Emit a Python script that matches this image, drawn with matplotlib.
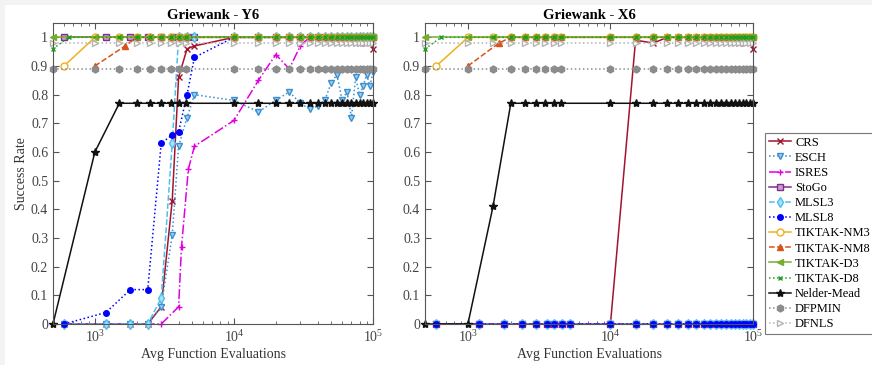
import matplotlib
matplotlib.use('Agg')
import matplotlib.pyplot as plt
from matplotlib.patches import Rectangle

plt.rcParams['font.family'] = ['Liberation Serif', 'DejaVu Serif']
plt.rcParams['mathtext.fontset'] = 'stix'

# evaluation budgets (two grids used by the solvers)
grid_a = [500, 1000, 1500, 2000, 2500, 3000, 3500, 4000, 4500,
          10000, 15000, 20000, 25000, 30000, 35000, 40000, 45000, 50000, 55000,
          60000, 65000, 70000, 75000, 80000, 85000, 90000, 95000, 100000]
grid_b = [600, 1200, 1800, 2400, 3000, 3600, 4000, 4600, 5200,
          10000, 15000, 20000, 25000, 30000, 35000, 40000, 45000, 50000, 55000,
          60000, 65000, 70000, 75000, 80000, 85000, 90000, 95000, 100000]
isres_x = [600, 1200, 1800, 2400, 3000, 4000, 4200, 4700, 5200,
           10000, 15000, 20000, 25000, 30000, 35000, 40000, 45000, 50000, 55000,
           60000, 65000, 70000, 75000, 80000, 85000, 90000, 95000, 100000]
nm3_x = [600] + grid_a[1:]
nm8_x = [1000, 1650] + grid_a[3:]
d8_x = [500, 650] + grid_a[2:]

# success rates, Griewank - Y6
crs_y6 = [0, 0, 0, 0, 0.06, 0.43, 0.86, 0.96, 0.97] + [1.0] * 14 + [0.98, 1.0, 1.0, 1.0, 0.96]
esch_y6 = [0, 0, 0, 0, 0.06, 0.31, 0.62, 0.72, 0.80,
           0.78, 0.74, 0.78, 0.81, 0.77, 0.75, 0.76, 0.78, 0.84, 0.87,
           0.78, 0.81, 0.72, 0.86, 0.80, 0.83, 0.87, 0.83, 0.88]
isres_y6 = [0, 0, 0, 0, 0, 0.06, 0.27, 0.54, 0.62, 0.71, 0.85, 0.94, 0.89, 0.97] + [1.0] * 14
stogo_y6 = [1.0] * 28
mlsl3_y6 = [0, 0, 0, 0, 0.09, 0.63] + [1.0] * 22
mlsl8_y6 = [0, 0.04, 0.12, 0.12, 0.63, 0.66, 0.67, 0.80, 0.93] + [1.0] * 19
nm3_y6 = [0.9] + [1.0] * 27
nm8_y6 = [0.9, 0.97] + [1.0] * 25
d3_y6 = [1.0] * 28
d8_y6 = [0.96] + [1.0] * 27
nmead_y6 = [0, 0.6] + [0.77] * 26
dfpmin_y6 = [0.89] * 28
dfnls_y6 = [0.98] * 28

# success rates, Griewank - X6
crs_x6 = [0] * 9 + [0, 0.99, 0.98] + [1.0] * 11 + [0.98, 1.0, 1.0, 1.0, 0.96]
esch_x6 = [0.0] * 28
isres_x6 = [0.0] * 28
stogo_x6 = [0.0] * 28
mlsl3_x6 = [0.0] * 28
mlsl8_x6 = [0.0] * 28
nm3_x6 = [0.9] + [1.0] * 27
nm8_x6 = [0.9, 0.98] + [1.0] * 25
d3_x6 = [1.0] * 28
d8_x6 = [0.96] + [1.0] * 27
nmead_x6 = [0, 0, 0.41] + [0.77] * 25
dfpmin_x6 = [0.89] * 28
dfnls_x6 = [0.98] * 28

names = ['CRS', 'ESCH', 'ISRES', 'StoGo', 'MLSL3', 'MLSL8', 'TIKTAK-NM3',
         'TIKTAK-NM8', 'TIKTAK-D3', 'TIKTAK-D8', 'Nelder-Mead', 'DFPMIN', 'DFNLS']
xs = [grid_b, grid_b, isres_x, grid_b, grid_b, grid_b, nm3_x,
      nm8_x, grid_a, d8_x, grid_a, grid_a, grid_a]
styles = [('#A2142F', '-', 'x', '#A2142F'),
          ('#3A8FD0', ':', 'v', '#9CCFF0'),
          ('#E000E0', '-.', '+', '#E000E0'),
          ('#7E2F8E', '-', 's', '#C9A0D0'),
          ('#4DBEEE', '--', 'd', '#A8E2F8'),
          ('#0000FF', ':', 'o', '#0000FF'),
          ('#EDB120', '-', 'o', 'white'),
          ('#D95319', '--', '^', '#D95319'),
          ('#77AC30', '-', '<', '#77AC30'),
          ('#1E9E1E', ':', 'x', '#1E9E1E'),
          ('#111111', '-', '*', '#111111'),
          ('#8C8C8C', ':', 'h', '#8C8C8C'),
          ('#B4B4B4', ':', '>', 'white')]
sizes = [4, 5, 5, 4, 5, 4, 5, 5, 5, 3, 6, 5, 5]
zorders = [2, 2, 2, 1.5, 2, 2, 2, 2, 3, 3, 2, 2, 2]

fig = plt.figure(figsize=(8.72, 3.65), dpi=100, facecolor='#f3f3f3')
fig.patches.append(Rectangle((5 / 872, 0), 1, 1 - 5 / 365, transform=fig.transFigure,
                             facecolor='white', edgecolor='none', zorder=-10))

ax1 = fig.add_axes([53 / 872, 1 - 324 / 365, 320 / 872, 301 / 365])
ax2 = fig.add_axes([425 / 872, 1 - 324 / 365, 328 / 872, 301 / 365])


def draw(ax, ys, title):
    handles = []
    for i in range(len(names)):
        c, ls, mk, fc = styles[i]
        h, = ax.plot(xs[i], ys[i], color=c, linestyle=ls, marker=mk, markersize=sizes[i],
                     markerfacecolor=fc, markeredgecolor=c, linewidth=1.1,
                     label=names[i], clip_on=False, zorder=zorders[i])
        handles.append(h)
    ax.set_xscale('log')
    ax.set_xlim(500, 100000)
    ax.set_ylim(0, 1.05)
    ax.set_yticks([0, 0.1, 0.2, 0.3, 0.4, 0.5, 0.6, 0.7, 0.8, 0.9, 1])
    ax.set_yticklabels(['0', '0.1', '0.2', '0.3', '0.4', '0.5', '0.6', '0.7', '0.8', '0.9', '1'])
    ax.tick_params(which='both', direction='in', top=True, right=True,
                   colors='#555555', labelsize=10, labelcolor='#444444')
    ax.tick_params(which='major', length=4)
    ax.tick_params(which='minor', length=2)
    for s in ax.spines.values():
        s.set_color('#555555')
        s.set_linewidth(0.8)
    ax.set_title(title, fontsize=10.5, fontweight='bold', pad=3)
    ax.set_xlabel('Avg Function Evaluations', fontsize=10, color='#333333', labelpad=2)
    return handles


handles = draw(ax1, [crs_y6, esch_y6, isres_y6, stogo_y6, mlsl3_y6, mlsl8_y6, nm3_y6,
                     nm8_y6, d3_y6, d8_y6, nmead_y6, dfpmin_y6, dfnls_y6], 'Griewank - Y6')
draw(ax2, [crs_x6, esch_x6, isres_x6, stogo_x6, mlsl3_x6, mlsl8_x6, nm3_x6,
           nm8_x6, d3_x6, d8_x6, nmead_x6, dfpmin_x6, dfnls_x6], 'Griewank - X6')
ax1.set_ylabel('Success Rate', fontsize=10, color='#333333', labelpad=2)

leg = fig.legend(handles=handles, loc='upper left', bbox_to_anchor=(765 / 872, 1 - 133 / 365),
                 fontsize=9, frameon=True, fancybox=False, edgecolor='#555555',
                 handlelength=1.8, handletextpad=0.3, labelspacing=0.25,
                 borderpad=0.3, borderaxespad=0)
leg.get_frame().set_linewidth(0.8)

fig.savefig('out.png', dpi=100, facecolor=fig.get_facecolor())
